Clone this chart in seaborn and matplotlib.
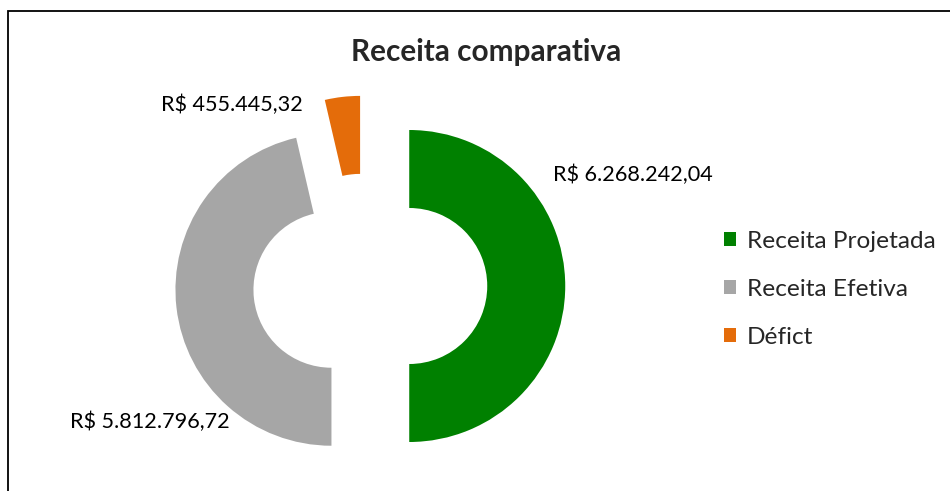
# Receita comparativa: exploded donut chart
import matplotlib
matplotlib.use('Agg')
import matplotlib.pyplot as plt
from matplotlib.patches import Rectangle
import seaborn as sns

sns.set_style('white')
plt.rcParams['font.family'] = ['Lato', 'DejaVu Sans']

categorias = ['Receita Projetada', 'Receita Efetiva', 'Déficit']
legenda = ['Receita Projetada', 'Receita Efetiva', 'Défict']
valores = [6268242.04, 5812796.72, 455445.32]
cores = ['#008000', '#A6A6A6', '#E46C0A']
explodir = [0.29, 0.21, 0.22]


def brl(v):
    s = f'{v:,.2f}'.replace(',', '_').replace('.', ',').replace('_', '.')
    return f'R$ {s}'


W, H, dpi = 950, 491, 100
fig = plt.figure(figsize=(W / dpi, H / dpi), dpi=dpi)
ax = fig.add_axes([0, 0, 1, 1])

wedges, _ = ax.pie(
    valores,
    colors=cores,
    explode=explodir,
    startangle=90,
    counterclock=False,
    radius=1,
    wedgeprops=dict(width=0.5, linewidth=0),
)

# 1 data unit = 156 px, pie centre at pixel (364, 286)
u = 156
cx, cy = 364, 286
ax.set_xlim(-cx / u, (W - cx) / u)
ax.set_ylim(-(H - cy) / u, cy / u)
ax.set_aspect('equal')
ax.axis('off')

# data labels
rot = dict(fontsize=15.6, color='black')
ax.text(1.212, 0.712, brl(valores[0]), ha='left', va='center', **rot)
ax.text(-0.859, -0.872, brl(valores[1]), ha='right', va='center', **rot)
ax.text(-0.391, 1.160, brl(valores[2]), ha='right', va='center', **rot)

fig.text(486 / W, 1 - 52 / H, 'Receita comparativa', ha='center', va='center',
         fontsize=21.4, fontweight='bold')

fig.legend(wedges, legenda, loc='upper left',
           bbox_to_anchor=(714 / W, 1 - 221 / H), frameon=False,
           fontsize=17.6, handlelength=0.5, handleheight=0.5,
           handletextpad=0.45, labelspacing=1.1, borderaxespad=0)

# chart frame (extends past right and bottom edges)
fig.patches.append(Rectangle((7.5 / W, -0.1), 1.0, 1.1 - 11 / H,
                             transform=fig.transFigure, fill=False,
                             lw=1.3, ec='black'))

fig.savefig('out.png', dpi=dpi)
